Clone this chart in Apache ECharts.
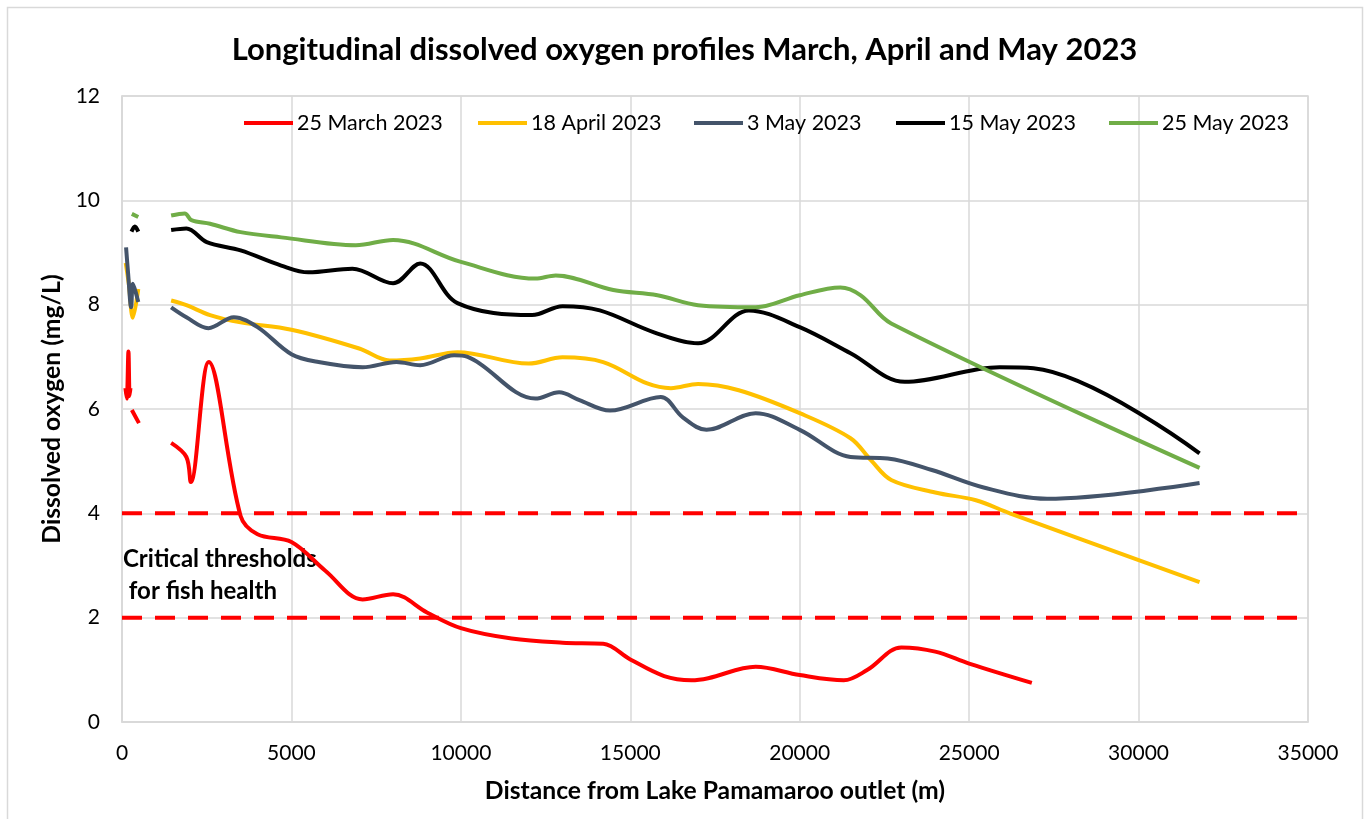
<!DOCTYPE html>
<html>
<head>
<meta charset="utf-8">
<script src="https://cdn.jsdelivr.net/npm/echarts@6/dist/echarts.min.js"></script>
<style>html,body{margin:0;padding:0;background:#fff;}#c{width:1369px;height:819px;}</style>
</head>
<body>
<div id="c"></div>
<script>
const seriesNames = ['25 March 2023', '18 April 2023', '3 May 2023', '15 May 2023', '25 May 2023'];
const xTicks = [0, 5000, 10000, 15000, 20000, 25000, 30000, 35000];
const yTicks = [0, 2, 4, 6, 8, 10, 12];
const thresholds = [4, 2];

// [distance (m), DO (mg/L)]; null breaks the line
const march25 = [[100,6.4],[140,6.2],[190,7.1],[225,6.25],[250,6.4],[270,null],[290,5.98],[500,5.73],[1000,null],
  [1450,5.35],[1900,5.08],[2030,4.6],[2560,6.9],[3500,3.95],[4000,3.6],[5000,3.45],[6000,2.9],[7100,2.35],[8000,2.45],
  [9000,2.1],[10000,1.8],[11500,1.6],[13000,1.52],[14200,1.5],[15000,1.2],[16000,0.88],[16800,0.8],[17300,0.84],
  [18700,1.06],[20000,0.9],[21300,0.8],[22000,1.0],[23000,1.43],[24000,1.35],[25000,1.12],[26850,0.75]];
const april18 = [[110,8.8],[200,8.4],[320,7.75],[480,8.3],[1000,null],
  [1450,8.08],[1900,7.99],[2600,7.8],[3500,7.66],[5000,7.52],[7000,7.16],[7900,6.93],[8800,6.97],[9900,7.09],
  [12000,6.87],[13000,6.99],[14200,6.9],[15500,6.49],[16200,6.4],[17000,6.48],[18200,6.36],[20000,5.92],
  [21500,5.44],[22100,5.02],[22700,4.64],[24000,4.4],[25200,4.25],[26200,4.0],[31800,2.68]];
const may3 = [[120,9.1],[180,8.6],[270,7.95],[320,8.4],[400,8.25],[480,8.05],[1000,null],
  [1450,7.95],[1900,7.76],[2550,7.55],[3300,7.76],[4000,7.57],[5000,7.05],[5800,6.9],[7100,6.8],[8100,6.9],
  [8800,6.84],[9800,7.03],[10200,7.0],[12200,6.2],[12900,6.32],[13500,6.17],[14400,5.97],[15900,6.23],
  [16550,5.84],[17250,5.6],[18700,5.92],[20000,5.6],[21500,5.08],[22600,5.05],[23900,4.83],[25400,4.5],
  [27300,4.28],[31800,4.58]];
const may15 = [[280,9.4],[380,9.5],[480,9.4],[1000,null],
  [1450,9.43],[1900,9.46],[2500,9.2],[3500,9.04],[4700,8.75],[5500,8.62],[6800,8.69],[8000,8.41],[8800,8.79],
  [9900,8.03],[12100,7.8],[13000,7.97],[14100,7.89],[15700,7.47],[17000,7.26],[18500,7.89],[20000,7.57],
  [21500,7.07],[23100,6.52],[25900,6.8],[26900,6.78],[31800,5.15]];
const may25 = [[290,9.74],[480,9.68],[1000,null],
  [1450,9.71],[1850,9.75],[2050,9.62],[2600,9.55],[3500,9.39],[4700,9.29],[6900,9.14],[8000,9.24],[10000,8.82],
  [12200,8.5],[12800,8.56],[14500,8.28],[15800,8.18],[17000,7.99],[18700,7.95],[20000,8.18],[21200,8.33],
  [21800,8.18],[22700,7.64],[31800,4.87]];

const colors = ['#FF0000', '#FFC000', '#44546A', '#000000', '#70AD47'];
const dataSets = [march25, april18, may3, may15, may25];
const legendLefts = [239, 473, 689, 891, 1104];
const font = 'Lato, "Open Sans", sans-serif';

const series = dataSets.map((d, i) => ({
  name: seriesNames[i], type: 'line', data: d, smooth: 0.35, showSymbol: false, connectNulls: false,
  lineStyle: { color: colors[i], width: 4 }, itemStyle: { color: colors[i] }, z: 3
}));
thresholds.forEach(t => series.push({
  name: 'threshold' + t, type: 'line', data: [[0, t], [35000, t]], showSymbol: false, silent: true,
  lineStyle: { color: '#FF0000', width: 4, type: [20, 13] }, z: 2
}));

const legends = seriesNames.map((n, i) => ({
  data: [n], left: legendLefts[i], top: 107, itemWidth: 49, itemHeight: 4, icon: 'rect', itemGap: 0,
  textStyle: { fontFamily: font, fontSize: 21.5, color: '#000', padding: [0, 0, 0, -1] }
}));

const chart = echarts.init(document.getElementById('c'), null, { renderer: 'canvas' });
chart.setOption({
  animation: false,
  backgroundColor: '#fff',
  title: {
    text: 'Longitudinal dissolved oxygen profiles March, April and May 2023',
    left: 'center', top: 29,
    textStyle: { fontFamily: font, fontWeight: 'bold', fontSize: 31, color: '#000' }
  },
  legend: legends,
  grid: { left: 122, right: 61, top: 96, bottom: 97, show: true, borderColor: '#D9D9D9', borderWidth: 1.5 },
  xAxis: {
    type: 'value', min: 0, max: 35000, interval: 5000,
    name: 'Distance from Lake Pamamaroo outlet (m)', nameLocation: 'middle', nameGap: 57,
    nameTextStyle: { fontFamily: font, fontWeight: 'bold', fontSize: 24.7, color: '#000' },
    axisLine: { show: true, lineStyle: { color: '#D9D9D9', width: 1.5 } },
    axisTick: { show: false },
    axisLabel: { fontFamily: font, fontSize: 21, color: '#000', margin: 21,
      formatter: v => xTicks.includes(v) ? String(v) : '' },
    splitLine: { show: true, lineStyle: { color: '#D9D9D9', width: 1.5 } }
  },
  yAxis: {
    type: 'value', min: 0, max: 12, interval: 2,
    name: 'Dissolved oxygen (mg/L)', nameLocation: 'middle', nameGap: 56,
    nameTextStyle: { fontFamily: font, fontWeight: 'bold', fontSize: 24.7, color: '#000' },
    axisLine: { show: true, lineStyle: { color: '#D9D9D9', width: 1.5 } },
    axisTick: { show: false },
    axisLabel: { fontFamily: font, fontSize: 21, color: '#000', margin: 22,
      formatter: v => yTicks.includes(v) ? String(v) : '' },
    splitLine: { show: true, lineStyle: { color: '#D9D9D9', width: 1.5 } }
  },
  graphic: [
    { type: 'rect', shape: { x: 7.5, y: 7.5, width: 1355, height: 830 }, style: { fill: 'none', stroke: '#D9D9D9', lineWidth: 1.5 }, silent: true },
    { type: 'text', left: 123, top: 543, style: { text: 'Critical thresholds\n for fish health', font: 'bold 24px ' + font, fill: '#000', lineHeight: 32 } }
  ],
  series: series
});
</script>
</body>
</html>
